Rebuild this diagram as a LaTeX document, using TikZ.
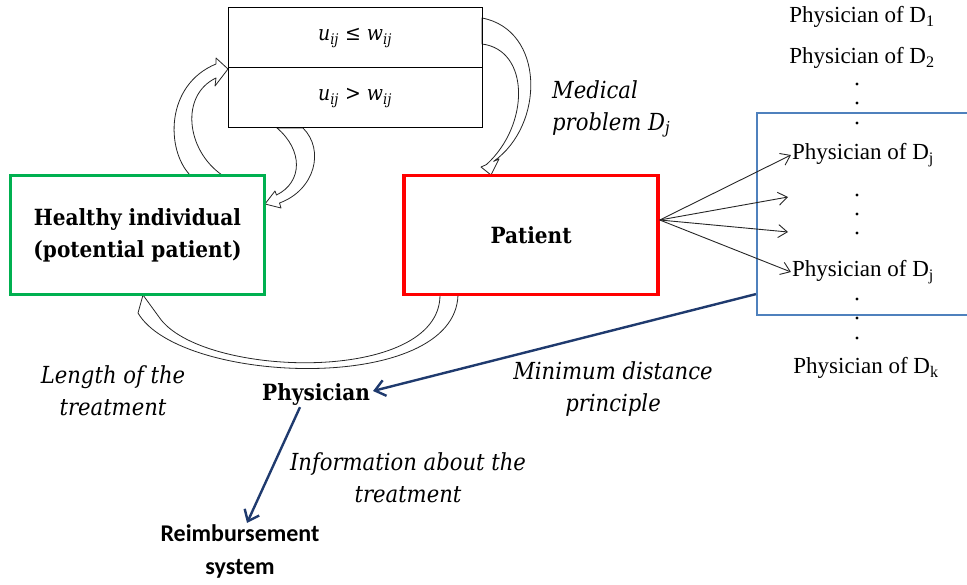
\documentclass[tikz,border=0pt]{standalone}
\usepackage{fontspec}
\usetikzlibrary{arrows.meta,calc}
\newfontfamily\camb{DejaVu Serif Condensed}
\newfontfamily\tnr{Liberation Serif}
\newfontfamily\carl{Carlito}
\definecolor{boxgreen}{RGB}{0,176,80}
\definecolor{boxred}{RGB}{255,0,0}
\definecolor{boxblue}{RGB}{79,129,189}
\definecolor{navy}{RGB}{31,58,110}
\tikzset{
  hollow/.style={draw=black!85, line width=0.8pt, fill=white, line join=round},
  thinarrow/.style={draw=black!85, line width=0.9pt, -{Straight Barb[length=9pt,width=13pt]}},
  navyarrow/.style={draw=navy, line width=2.4pt, -{Straight Barb[length=10pt,width=16pt]}},
  condbox/.style={draw, line width=1pt, minimum width=254pt, minimum height=60pt, inner sep=0pt,
    font=\camb\fontsize{21}{24}\selectfont},
  statebox/.style={line width=3.5pt, minimum width=254pt, minimum height=119pt, inner sep=0pt,
    align=center, font=\camb\bfseries\fontsize{22.3}{32}\selectfont},
  docname/.style={inner sep=1pt, font=\tnr\fontsize{23}{26}\selectfont},
  boldlabel/.style={inner sep=1pt, align=center, font=\camb\bfseries\fontsize{22.3}{26}\selectfont},
  itlabel/.style={inner sep=0pt, font=\camb\itshape\fontsize{23.5}{32}\selectfont},
}
\begin{document}
\begin{tikzpicture}[x=1pt,y=-1pt]
\useasboundingbox (0,0) rectangle (967,585);

% curved block arrows (drawn first, box borders cover their tails)
% healthy individual -> condition box
\path[hollow] (190,175) .. controls (166,150) and (165,85) .. (216,64)
  -- (216,58) -- (228,69) -- (215,86) -- (216,78)
  .. controls (180,95) and (186,150) .. (222,175) -- cycle;
% condition box -> healthy individual
\path[hollow] (303,128) .. controls (325,150) and (315,190) .. (279.5,203)
  -- (281,208) -- (265,204) -- (275,191) -- (276.5,195)
  .. controls (303,182) and (303,150) .. (277,128) -- cycle;
% condition box -> patient
\path[hollow] (482,18) .. controls (545,30) and (545,125) .. (493.6,161.4)
  -- (499,159) -- (491,175) -- (481,167) -- (486.4,164.6)
  .. controls (530,125) and (530,50) .. (482,44) -- cycle;
% patient -> healthy individual
\path[hollow] (458,295) .. controls (455,395) and (180,385) .. (138,313)
  -- (143,295) -- (159,317)
  .. controls (200,378) and (440,385) .. (440,295) -- cycle;

% condition boxes
\node[condbox] (le) at (355,38) {{\itshape u\textsubscript{ij}} ≤ {\itshape w\textsubscript{ij}}};
\node[condbox] (gt) at (355,98) {{\itshape u\textsubscript{ij}} > {\itshape w\textsubscript{ij}}};

% states
\node[statebox, draw=boxgreen] (healthy) at (137.5,235) {Healthy individual\\(potential patient)};
\node[statebox, draw=boxred] (patient) at (531,235) {Patient};

% physicians of the diseases
\node[draw=boxblue, line width=2.2pt, minimum width=218pt, minimum height=202pt, inner sep=0pt]
  (group) at (866,214) {};
\node[docname] (d1) at (862,17) {Physician of D\textsubscript{1}};
\node[docname] (d2) at (862,58) {Physician of D\textsubscript{2}};
\node[docname] (dj1) at (863,155) {Physician of D\textsubscript{j}};
\node[docname] (dj2) at (863,272) {Physician of D\textsubscript{j}};
\node[docname] (dk) at (866,368) {Physician of D\textsubscript{k}};
\foreach \yy in {84,103,123,195,214,233,299,318,338}
  \fill (857,\yy) circle (1.6);
\coordinate (m1) at (788,197);
\coordinate (m2) at (788,232);

\draw[thinarrow] ([yshift=15pt]patient.east) -- (dj1.west);
\draw[thinarrow] ([yshift=15pt]patient.east) -- (m1);
\draw[thinarrow] ([yshift=15pt]patient.east) -- (m2);
\draw[thinarrow] ([yshift=15pt]patient.east) -- (dj2.west);

% physician and reimbursement
\node[boldlabel] (phys) at (316,395) {Physician};
\node[inner sep=1pt, align=center, font=\carl\bfseries\fontsize{24}{33}\selectfont]
  (reimb) at (240,551) {Reimbursement\\system};

\draw[navyarrow] ([yshift=22pt]group.south west) -- ([xshift=2pt,yshift=4pt]phys.east);
\draw[navyarrow] ([xshift=-16pt]phys.south) -- ([xshift=7pt]reimb.north);

% labels
\node[itlabel, align=left, anchor=west] (med) at (552,109) {Medical\\problem {D\textsubscript{j}}};
\node[itlabel, align=center] (len) at (113,391) {Length of the\\treatment};
\node[itlabel, align=center] (mind) at (613,389) {Minimum distance\\principle};
\node[itlabel, align=center] (info) at (408,478) {Information about the\\treatment};
\end{tikzpicture}
\end{document}
